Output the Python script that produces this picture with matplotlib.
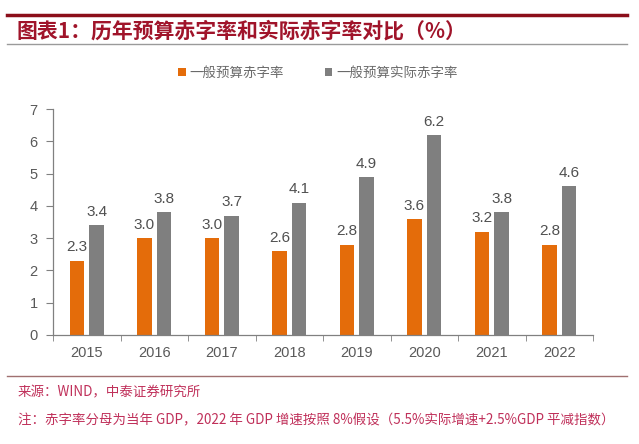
import matplotlib
matplotlib.use("Agg")
import matplotlib.pyplot as plt
from matplotlib.lines import Line2D
import numpy as np

plt.rcParams['font.family'] = ['Noto Sans CJK SC', 'DejaVu Sans']

years = ["2015", "2016", "2017", "2018", "2019", "2020", "2021", "2022"]
budget = [2.3, 3.0, 3.0, 2.6, 2.8, 3.6, 3.2, 2.8]
actual = [3.4, 3.8, 3.7, 4.1, 4.9, 6.2, 3.8, 4.6]
series_names = ["一般预算赤字率", "一般预算实际赤字率"]
title = "图表1：历年预算赤字率和实际赤字率对比（%）"
source = "来源：WIND，中泰证券研究所"
note = "注：赤字率分母为当年 GDP，2022 年 GDP 增速按照 8%假设（5.5%实际增速+2.5%GDP 平减指数）"

W, H = 639, 444
fig = plt.figure(figsize=(W / 100, H / 100), dpi=100)
fig.patch.set_facecolor("white")

def fx(px):
    return px / W

def fy(py):
    return 1 - py / H

ax = fig.add_axes([fx(53), fy(335), fx(593) - fx(53), fy(109) - fy(335)])

orange = "#E46C0A"
gray = "#7F7F7F"
num_font = ["Liberation Sans", "DejaVu Sans"]
x = np.arange(len(years))
w = 0.22
off = 0.145
b1 = ax.bar(x - off, budget, w, color=orange, label=series_names[0])
b2 = ax.bar(x + off, actual, w, color=gray, label=series_names[1])

for rects, vals in ((b1, budget), (b2, actual)):
    for r, v in zip(rects, vals):
        ax.annotate(f"{v:.1f}", (r.get_x() + r.get_width() / 2, r.get_height()),
                    xytext=(0, 4.5), textcoords="offset points", ha="center", va="bottom",
                    fontsize=11, color="#505050", family=num_font)

ax.set_xlim(-0.5, len(years) - 0.5)
ax.set_ylim(0, 7)
ax.set_yticks(range(0, 8))
ax.set_xticks(x)
ax.set_xticklabels(years)
ax.set_xticks(np.arange(-0.5, len(years) + 0.5, 1), minor=True)
ax.tick_params(axis="x", which="major", length=0, pad=8, labelsize=10.5, labelcolor="#595959")
ax.tick_params(axis="x", which="minor", length=4, color="#808080", direction="out")
ax.tick_params(axis="y", length=5, color="#808080", labelsize=10.5, labelcolor="#595959", pad=6)
for lab in ax.get_xticklabels() + ax.get_yticklabels():
    lab.set_family(num_font)
for s in ("top", "right"):
    ax.spines[s].set_visible(False)
for s in ("left", "bottom"):
    ax.spines[s].set_color("#808080")
    ax.spines[s].set_linewidth(0.9)

leg = fig.legend(handles=[b1, b2], labels=series_names, loc="center",
                 bbox_to_anchor=(fx(318), fy(73)), ncol=2, frameon=False,
                 fontsize=9.7, handlelength=0.55, handleheight=0.55, handletextpad=0.3,
                 columnspacing=3.0)
for t in leg.get_texts():
    t.set_color("#6A6A6A")

# header and footer decorations
fig.add_artist(Line2D([fx(7), fx(627)], [fy(15), fy(15)], color="#8B0E1A", lw=2.5))
fig.add_artist(Line2D([fx(7), fx(627)], [fy(44), fy(44)], color="#9A9A9A", lw=1.0))
fig.add_artist(Line2D([fx(7), fx(627)], [fy(376), fy(376)], color="#A07070", lw=1.0))
fig.text(fx(17), fy(31), title, fontsize=15, fontweight="bold", color="#A0142A",
         va="center", ha="left", style="italic")
fig.text(fx(18), fy(392), source, fontsize=9.7, color="#C0305A", va="center", ha="left")
fig.text(fx(18), fy(420), note, fontsize=9.7, color="#C0305A", va="center", ha="left")

fig.savefig("out.png", dpi=100, facecolor="white")
